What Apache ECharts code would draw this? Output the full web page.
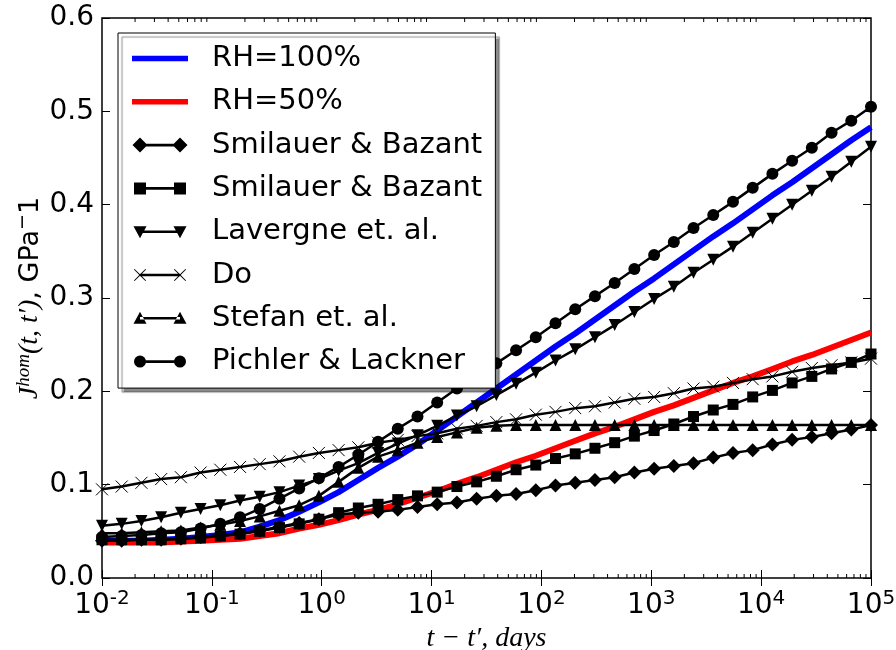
<!DOCTYPE html>
<html>
<head>
<meta charset="utf-8">
<script src="https://cdn.jsdelivr.net/npm/echarts@6/dist/echarts.min.js"></script>
<style>
  html, body { margin: 0; padding: 0; background: #fff; }
  #chart { width: 896px; height: 650px; }
</style>
</head>
<body>
<div id="chart"></div>
<script>
// Load duration t - t' in days (40 log-spaced sample points, 1e-2 .. 1e5)
const days = [0.01, 0.01511, 0.02285, 0.03455, 0.05222, 0.07895, 0.1194, 0.1805, 0.2728, 0.4125,
  0.6236, 0.9428, 1.425, 2.154, 3.257, 4.924, 7.443, 11.25, 17.01, 25.72,
  38.88, 58.78, 88.86, 134.3, 203.1, 307.0, 464.2, 701.7, 1061, 1604,
  2424, 3665, 5541, 8377, 12664, 19145, 28943, 43755, 66147, 100000];

// Compliance J_hom(t, t'), 1/GPa
const rh100 = [0.040, 0.040, 0.040, 0.041, 0.042, 0.044, 0.046, 0.049, 0.055, 0.062,
  0.071, 0.081, 0.092, 0.105, 0.118, 0.130, 0.143, 0.158, 0.173, 0.188,
  0.203, 0.218, 0.233, 0.248, 0.262, 0.277, 0.292, 0.307, 0.321, 0.336,
  0.351, 0.366, 0.380, 0.395, 0.410, 0.424, 0.439, 0.454, 0.469, 0.483];
const rh50 = [0.038, 0.038, 0.038, 0.038, 0.039, 0.040, 0.041, 0.042, 0.045, 0.048,
  0.053, 0.057, 0.062, 0.068, 0.073, 0.079, 0.086, 0.093, 0.101, 0.108,
  0.116, 0.124, 0.131, 0.139, 0.147, 0.155, 0.162, 0.170, 0.178, 0.185,
  0.193, 0.201, 0.209, 0.216, 0.224, 0.232, 0.239, 0.247, 0.255, 0.263];
const smilauerA = [0.040, 0.040, 0.041, 0.041, 0.042, 0.044, 0.046, 0.048, 0.051, 0.055,
  0.059, 0.063, 0.068, 0.070, 0.071, 0.073, 0.076, 0.079, 0.081, 0.085,
  0.088, 0.090, 0.094, 0.099, 0.102, 0.105, 0.108, 0.113, 0.117, 0.120,
  0.123, 0.129, 0.134, 0.137, 0.143, 0.148, 0.151, 0.155, 0.159, 0.164];
const smilauerB = [0.041, 0.041, 0.041, 0.041, 0.042, 0.043, 0.045, 0.047, 0.050, 0.054,
  0.058, 0.063, 0.070, 0.075, 0.079, 0.084, 0.088, 0.092, 0.098, 0.103,
  0.109, 0.116, 0.121, 0.128, 0.133, 0.139, 0.145, 0.152, 0.158, 0.165,
  0.173, 0.180, 0.186, 0.194, 0.201, 0.209, 0.216, 0.224, 0.231, 0.240];
const lavergne = [0.056, 0.058, 0.061, 0.065, 0.070, 0.074, 0.078, 0.083, 0.087, 0.092,
  0.099, 0.106, 0.115, 0.123, 0.134, 0.144, 0.153, 0.163, 0.174, 0.184,
  0.196, 0.208, 0.220, 0.233, 0.245, 0.258, 0.271, 0.285, 0.299, 0.312,
  0.327, 0.341, 0.355, 0.370, 0.385, 0.400, 0.415, 0.430, 0.446, 0.462];
const doModel = [0.095, 0.098, 0.102, 0.106, 0.108, 0.113, 0.116, 0.119, 0.122, 0.125,
  0.130, 0.134, 0.137, 0.140, 0.145, 0.148, 0.152, 0.155, 0.160, 0.163,
  0.167, 0.170, 0.175, 0.178, 0.182, 0.184, 0.188, 0.192, 0.194, 0.198,
  0.203, 0.205, 0.209, 0.213, 0.216, 0.221, 0.225, 0.228, 0.231, 0.235];
const stefan = [0.048, 0.048, 0.049, 0.050, 0.051, 0.054, 0.057, 0.061, 0.066, 0.072,
  0.078, 0.088, 0.103, 0.118, 0.130, 0.137, 0.145, 0.151, 0.156, 0.161,
  0.163, 0.164, 0.164, 0.164, 0.164, 0.164, 0.164, 0.164, 0.164, 0.164,
  0.164, 0.164, 0.164, 0.164, 0.164, 0.164, 0.164, 0.164, 0.164, 0.164];
const pichler = [0.044, 0.045, 0.046, 0.048, 0.049, 0.053, 0.058, 0.065, 0.074, 0.085,
  0.096, 0.107, 0.119, 0.132, 0.146, 0.160, 0.173, 0.188, 0.203, 0.216,
  0.230, 0.244, 0.258, 0.273, 0.288, 0.302, 0.316, 0.331, 0.346, 0.360,
  0.375, 0.389, 0.403, 0.418, 0.433, 0.447, 0.461, 0.477, 0.490, 0.505];

// Legend labels (second Smilauer & Bazant entry carries a trailing space to stay distinct)
const names = ['RH=100%', 'RH=50%', 'Smilauer & Bazant', 'Smilauer & Bazant ',
  'Lavergne et. al.', 'Do', 'Stefan et. al.', 'Pichler & Lackner'];

// Axis tick values
const yTicks = [0.0, 0.1, 0.2, 0.3, 0.4, 0.5, 0.6];
const xMinorTicks = [];
[0.01, 0.1, 1, 10, 100, 1000, 10000].forEach(function (dec) {
  [2, 3, 4, 5, 6, 7, 8, 9].forEach(function (m) { xMinorTicks.push([+(dec * m).toPrecision(3), 0]); });
});

function pairs(ys) { return days.map(function (d, i) { return [d, ys[i]]; }); }

// Legend icons: a line with a marker at each end, drawn in a fixed 56 x 16 box
const box = 'M0,0L0,0.01ZM56,16L56,15.99Z';
const bar = 'M8,6.7L48,6.7L48,9.3L8,9.3Z';
function ring(cx) {
  const pts = [[6, 0], [5.54, 2.3], [4.24, 4.24], [2.3, 5.54], [0, 6], [-2.3, 5.54], [-4.24, 4.24], [-5.54, 2.3],
    [-6, 0], [-5.54, -2.3], [-4.24, -4.24], [-2.3, -5.54], [0, -6], [2.3, -5.54], [4.24, -4.24], [5.54, -2.3]];
  return pts.map(function (p, i) { return (i ? 'L' : 'M') + (cx + p[0]).toFixed(2) + ',' + (8 + p[1]).toFixed(2); }).join('') + 'Z';
}
function cross(cx) {
  const p = [[-5.4, -6.1], [0, -0.7], [5.4, -6.1], [6.1, -5.4], [0.7, 0], [6.1, 5.4], [5.4, 6.1], [0, 0.7],
    [-5.4, 6.1], [-6.1, 5.4], [-0.7, 0], [-6.1, -5.4]];
  return p.map(function (q, i) { return (i ? 'L' : 'M') + (cx + q[0]).toFixed(2) + ',' + (8 + q[1]).toFixed(2); }).join('') + 'Z';
}
const icons = [
  'path://' + box + 'M0,5.2L56,5.2L56,10.8L0,10.8Z',
  'path://' + box + 'M0,5.2L56,5.2L56,10.8L0,10.8Z',
  'path://' + box + 'M8,0.5L15.5,8L8,15.5L0.5,8ZM48,0.5L55.5,8L48,15.5L40.5,8Z' + bar,
  'path://' + box + 'M2,2L14,2L14,14L2,14ZM42,2L54,2L54,14L42,14Z' + bar,
  'path://' + box + 'M1.5,2.5L14.5,2.5L8,14.5ZM41.5,2.5L54.5,2.5L48,14.5Z' + bar,
  'path://' + box + cross(8) + cross(48) + bar,
  'path://' + box + 'M1.5,13.5L14.5,13.5L8,1.5ZM41.5,13.5L54.5,13.5L48,1.5Z' + bar,
  'path://' + box + ring(8) + ring(48) + bar
];

const sansFont = '"DejaVu Sans", sans-serif';
const mathFont = '"Liberation Serif", "DejaVu Serif", serif';

function markerSeries(name, ys, symbol, size, extra) {
  return Object.assign({
    name: name, type: 'line', data: pairs(ys),
    symbol: symbol, symbolSize: size, showSymbol: true,
    lineStyle: { color: '#000', width: 2.5 },
    itemStyle: { color: '#000' },
    emphasis: { disabled: true }, animation: false, z: 3
  }, extra || {});
}

const chart = echarts.init(document.getElementById('chart'), null, { renderer: 'canvas' });
chart.setOption({
  animation: false,
  backgroundColor: '#fff',
  grid: {
    left: 102, right: 25, top: 18, bottom: 72, outerBoundsMode: 'none', containLabel: false,
    show: true, borderColor: '#000', borderWidth: 1.5, backgroundColor: 'transparent'
  },
  // y-axis title, rotated, centred on the plot height
  graphic: [{
    type: 'text', x: 29, y: 298, rotation: Math.PI / 2, silent: true,
    style: {
      text: '{i|J}{is|hom}{i|(t, t′)}{n|, GPa}{ns|−}{n|1}',
      align: 'center', verticalAlign: 'middle',
      rich: {
        i: { fontFamily: mathFont, fontStyle: 'italic', fontSize: 28, lineHeight: 30, verticalAlign: 'bottom', fill: '#000' },
        is: { fontFamily: mathFont, fontStyle: 'italic', fontSize: 19, lineHeight: 20, verticalAlign: 'top', fill: '#000' },
        n: { fontFamily: sansFont, fontSize: 27, lineHeight: 30, verticalAlign: 'bottom', fill: '#000' },
        ns: { fontFamily: sansFont, fontSize: 19, lineHeight: 20, verticalAlign: 'top', fill: '#000' }
      }
    }
  }],
  legend: {
    orient: 'vertical', left: 118, top: 33,
    padding: [11, 4, 12, 14],
    itemWidth: 56, itemHeight: 16, itemGap: 14.3,
    backgroundColor: '#fff', borderColor: '#000', borderWidth: 1,
    shadowColor: 'rgba(0,0,0,0.45)', shadowBlur: 1, shadowOffsetX: 4, shadowOffsetY: 4,
    selectedMode: false,
    textStyle: { fontFamily: sansFont, fontSize: 29, lineHeight: 29, color: '#000', padding: [0, 0, 0, 19] },
    data: names.map(function (n, i) { return { name: n, icon: icons[i], itemStyle: { borderWidth: 0 } }; })
  },
  xAxis: [{
    type: 'log', logBase: 10, min: 0.01, max: 100000,
    name: '{m|t − t′, days}', nameLocation: 'middle', nameGap: 41,
    nameTextStyle: { rich: { m: { fontFamily: mathFont, fontStyle: 'italic', fontSize: 28, color: '#000' } } },
    axisLine: { show: false },
    axisTick: { show: true, inside: true, length: 8, lineStyle: { color: '#000', width: 1 } },
    splitLine: { show: false },
    axisLabel: {
      margin: 11, color: '#000',
      formatter: function (v) { return '{b|10}{s|' + Math.round(Math.log10(v)) + '}'; },
      rich: {
        b: { fontFamily: sansFont, fontSize: 28, lineHeight: 31, verticalAlign: 'bottom' },
        s: { fontFamily: sansFont, fontSize: 20, lineHeight: 20, verticalAlign: 'top' }
      }
    }
  }, {
    type: 'log', logBase: 10, min: 0.01, max: 100000, position: 'top',
    axisLine: { show: false }, axisLabel: { show: false }, splitLine: { show: false },
    axisTick: { show: true, inside: true, length: 8, lineStyle: { color: '#000', width: 1 } }
  }],
  yAxis: [{
    type: 'value', min: yTicks[0], max: yTicks[yTicks.length - 1], interval: 0.1,
    axisLine: { show: false },
    axisTick: { show: true, inside: true, length: 8, lineStyle: { color: '#000', width: 1 } },
    splitLine: { show: false },
    axisLabel: { margin: 8, color: '#000', fontFamily: sansFont, fontSize: 28, formatter: function (v) { return v.toFixed(1); } }
  }, {
    type: 'value', min: yTicks[0], max: yTicks[yTicks.length - 1], interval: 0.1, position: 'right',
    axisLine: { show: false }, axisLabel: { show: false }, splitLine: { show: false },
    axisTick: { show: true, inside: true, length: 8, lineStyle: { color: '#000', width: 1 } }
  }],
  series: [
    {
      name: names[0], type: 'line', data: pairs(rh100), showSymbol: false, symbol: 'none',
      lineStyle: { color: '#0000ff', width: 6 }, itemStyle: { color: '#0000ff' },
      emphasis: { disabled: true }, z: 2
    },
    {
      name: names[1], type: 'line', data: pairs(rh50), showSymbol: false, symbol: 'none',
      lineStyle: { color: '#ff0000', width: 6 }, itemStyle: { color: '#ff0000' },
      emphasis: { disabled: true }, z: 2
    },
    markerSeries(names[2], smilauerA, 'diamond', 14),
    markerSeries(names[3], smilauerB, 'rect', 11),
    markerSeries(names[4], lavergne, 'triangle', 12, { symbolRotate: 180 }),
    markerSeries(names[5], doModel, 'path://M0,0L12,12M12,0L0,12', 12,
      { itemStyle: { color: '#000', borderColor: '#000', borderWidth: 1 } }),
    markerSeries(names[6], stefan, 'triangle', 12),
    markerSeries(names[7], pichler, 'circle', 12),
    {
      // minor log ticks on bottom and top frame edges
      type: 'custom', data: xMinorTicks, silent: true, clip: false, z: 5,
      encode: { x: 0, y: 1 },
      renderItem: function (params, api) {
        const x = api.coord([api.value(0), 0])[0];
        const cs = params.coordSys;
        return {
          type: 'group', children: [
            { type: 'line', shape: { x1: x, y1: cs.y + cs.height, x2: x, y2: cs.y + cs.height - 4 }, style: { stroke: '#000', lineWidth: 1 } },
            { type: 'line', shape: { x1: x, y1: cs.y, x2: x, y2: cs.y + 4 }, style: { stroke: '#000', lineWidth: 1 } }
          ]
        };
      }
    }
  ]
});
</script>
</body>
</html>
